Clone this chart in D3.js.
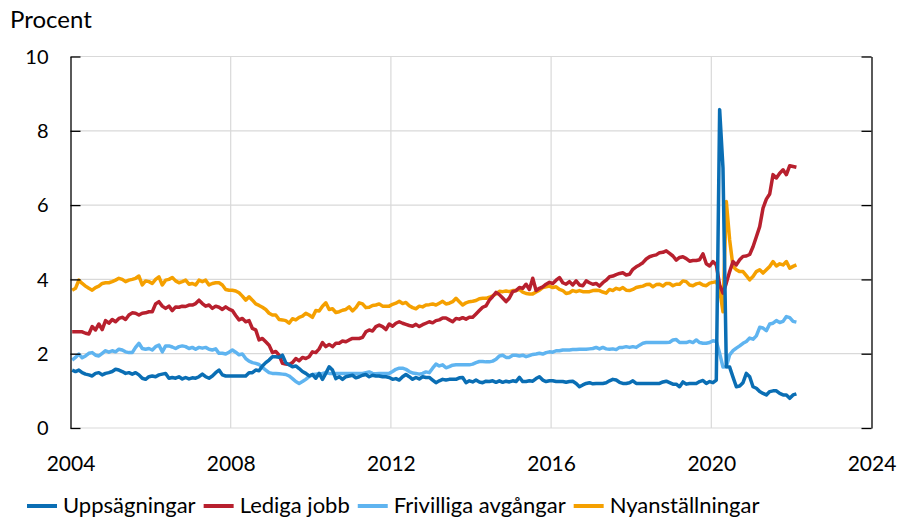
<!DOCTYPE html>
<html>
<head>
<meta charset="utf-8">
<script src="https://cdn.jsdelivr.net/npm/d3@7"></script>
<style>
  body { margin: 0; background: #fff; }
  svg { display: block; }
</style>
</head>
<body>
<div id="chart"></div>
<script>
// Monthly observations, first value = January 2004
const startYear = 2004;

const uppsagningar = [
  1.56,1.52,1.56,1.49,1.45,1.43,1.40,1.47,1.49,1.43, 1.47,1.49,1.52,1.58,1.56,1.52,1.47,1.49,1.45,1.49,
  1.43,1.34,1.31,1.38,1.40,1.38,1.43,1.45,1.47,1.34,
  1.36,1.34,1.38,1.32,1.36,1.32,1.35,1.34,1.38,1.45, 1.38,1.34,1.40,1.49,1.56,1.43,1.40,1.40,1.40,1.40,
  1.40,1.40,1.40,1.49,1.49,1.56,1.54,1.67,1.76,1.83, 1.92,
  1.92,1.90,1.96,1.76,1.70,1.65,1.67,1.60,1.52,1.47, 1.40,1.44,1.34,1.47,1.31,1.47,1.65,1.56,1.33,1.38,
  1.31,1.38,1.40,1.42,1.35,1.38,1.42,1.44,1.38,1.42, 1.40,1.40,
  1.38,1.38,1.36,1.31,1.33,1.29,1.38,1.44,1.38,1.31, 1.36,1.32,1.38,1.36,1.36,1.29,1.22,1.27,1.31,1.29,
  1.31,1.31,1.31,1.35,1.36,1.22,1.27,1.24,1.29,1.24, 1.22,
  1.26,1.25,1.27,1.23,1.27,1.23,1.26,1.24,1.27,1.25, 1.36,1.25,1.25,1.27,1.26,1.33,1.38,1.29,1.25,1.27,
  1.27,1.25,1.25,1.25,1.23,1.25,1.26,1.20,1.11,1.16, 1.20,1.22,
  1.19,1.20,1.20,1.20,1.22,1.27,1.31,1.29,1.23,1.20, 1.20,1.22,1.27,1.20,1.20,1.20,1.20,1.20,1.20,1.20,
  1.20,1.24,1.26,1.22,1.18,1.18,1.11,1.24,1.18,1.20,
  1.20,1.20,1.25,1.28,1.20,1.25,1.22,1.29,8.57,7.00, 1.65,1.64,1.37,1.11,1.13,1.22,1.47,1.38,1.11,1.07,
  0.98,0.93,0.89,0.98,1.00,1.00,0.93,0.89,0.89,0.80, 0.89,0.92
];

const ledigaJobb = [
  2.59,2.59,2.59,2.59,2.55,2.53,2.73,2.64,2.80,2.65, 2.89,2.82,2.92,2.86,2.95,2.98,2.92,3.04,3.10,3.09,
  3.04,3.09,3.10,3.13,3.13,3.34,3.40,3.28,3.22,3.28,
  3.16,3.26,3.25,3.28,3.27,3.31,3.31,3.35,3.44,3.35, 3.28,3.31,3.22,3.28,3.25,3.19,3.26,3.20,3.16,3.03,
  2.91,2.95,2.86,2.89,2.68,2.64,2.37,2.41,2.32,2.23, 2.03,
  2.06,1.96,1.74,1.72,1.71,1.76,1.87,1.81,1.90,1.87, 1.92,2.05,2.03,2.13,2.30,2.19,2.25,2.19,2.28,2.28,
  2.34,2.32,2.37,2.41,2.41,2.41,2.44,2.59,2.64,2.61, 2.73,2.77,
  2.73,2.65,2.80,2.74,2.82,2.86,2.82,2.79,2.76,2.74, 2.79,2.73,2.78,2.82,2.86,2.83,2.89,2.91,2.96,2.96,
  2.91,2.86,2.95,2.93,2.97,2.93,2.98,2.98,3.07,3.16, 3.25,
  3.29,3.44,3.54,3.65,3.59,3.50,3.40,3.50,3.67,3.70, 3.78,3.76,3.87,3.73,4.03,3.70,3.76,3.80,3.87,3.92,
  3.89,3.98,4.05,3.91,3.87,3.94,3.85,3.96,3.85,3.83, 3.96,3.91,
  3.87,3.89,3.82,3.91,3.98,4.07,4.09,4.13,4.16,4.18, 4.12,4.14,4.27,4.34,4.39,4.45,4.55,4.61,4.64,4.66,
  4.72,4.73,4.77,4.70,4.63,4.52,4.59,4.61,4.56,4.49,
  4.51,4.51,4.53,4.69,4.42,4.36,4.48,4.39,3.85,3.63, 3.90,4.21,4.48,4.39,4.53,4.62,4.63,4.67,4.88,5.15,
  5.42,5.92,6.16,6.30,6.82,6.73,6.86,6.95,6.82,7.06, 7.04,7.02
];

const frivilligaAvgangar = [
  1.83,1.90,1.99,1.89,1.94,2.01,2.03,1.96,1.94,2.01, 2.08,2.04,2.08,2.05,2.12,2.10,2.05,2.03,2.03,2.17,
  2.28,2.14,2.12,2.14,2.10,2.19,2.23,2.05,2.21,2.21,
  2.18,2.14,2.19,2.21,2.19,2.14,2.17,2.12,2.17,2.15, 2.17,2.12,2.10,2.13,2.01,2.01,1.99,2.04,2.10,2.04,
  1.97,1.99,1.87,1.80,1.76,1.74,1.71,1.63,1.56,1.49, 1.47,
  1.47,1.46,1.45,1.44,1.40,1.33,1.25,1.20,1.25,1.31, 1.38,1.44,1.45,1.46,1.47,1.49,1.47,1.47,1.47,1.47,
  1.47,1.47,1.47,1.47,1.47,1.47,1.47,1.49,1.51,1.47, 1.46,1.47,
  1.47,1.47,1.47,1.52,1.58,1.61,1.61,1.58,1.52,1.48, 1.47,1.45,1.47,1.51,1.49,1.61,1.72,1.67,1.70,1.62,
  1.65,1.69,1.70,1.70,1.70,1.70,1.70,1.72,1.76,1.79, 1.79,
  1.78,1.78,1.80,1.85,1.94,1.96,1.90,1.90,1.96,1.96, 1.94,1.96,1.92,1.95,1.98,1.99,2.01,1.99,2.03,2.05,
  2.04,2.08,2.08,2.10,2.10,2.10,2.11,2.11,2.12,2.12, 2.12,2.13,
  2.14,2.17,2.13,2.17,2.13,2.12,2.13,2.11,2.17,2.17, 2.19,2.17,2.19,2.17,2.23,2.28,2.30,2.30,2.30,2.30,
  2.30,2.30,2.30,2.31,2.37,2.38,2.30,2.30,2.30,2.33,
  2.30,2.37,2.30,2.28,2.28,2.30,2.35,2.33,2.01,1.64, 1.65,1.97,2.08,2.15,2.21,2.28,2.33,2.42,2.39,2.48,
  2.71,2.69,2.62,2.80,2.82,2.89,2.84,2.87,3.00,2.97, 2.87,2.85
];

const nyanstallningar = [
  3.71,3.76,3.98,3.89,3.82,3.76,3.71,3.78,3.82,3.89, 3.91,3.91,3.94,3.98,4.03,4.00,3.94,3.98,4.00,4.03,
  4.09,3.85,3.96,3.94,3.89,4.00,4.07,3.85,3.98,4.00,
  4.05,3.96,3.91,3.94,3.98,3.87,3.89,3.85,3.98,3.94, 3.98,3.85,3.89,3.91,3.91,3.85,3.73,3.71,3.71,3.69,
  3.64,3.55,3.44,3.53,3.44,3.34,3.30,3.25,3.19,3.09, 3.04,
  3.04,2.92,2.91,2.89,2.82,2.94,2.91,2.98,3.01,3.09, 3.04,2.98,3.16,3.15,3.28,3.37,3.19,3.21,3.11,3.13,
  3.17,3.19,3.26,3.15,3.24,3.37,3.34,3.24,3.25,3.30, 3.31,3.34,
  3.28,3.28,3.28,3.33,3.36,3.41,3.35,3.38,3.29,3.24, 3.21,3.28,3.26,3.31,3.32,3.34,3.31,3.36,3.41,3.34,
  3.36,3.40,3.49,3.40,3.31,3.37,3.40,3.41,3.43,3.48, 3.49,
  3.49,3.52,3.56,3.61,3.68,3.67,3.69,3.67,3.70,3.70, 3.73,3.66,3.62,3.61,3.61,3.66,3.71,3.78,3.80,3.82,
  3.78,3.80,3.73,3.70,3.62,3.64,3.70,3.67,3.70,3.67, 3.67,3.67,
  3.70,3.71,3.70,3.66,3.63,3.73,3.70,3.76,3.73,3.78, 3.71,3.70,3.73,3.78,3.80,3.82,3.86,3.87,3.80,3.86,
  3.87,3.82,3.89,3.89,3.83,3.87,3.87,3.96,3.94,3.85,
  3.83,3.88,3.90,3.85,3.83,3.90,3.92,3.94,3.72,3.13, 6.10,5.06,4.35,4.26,4.21,4.21,4.10,3.99,4.08,4.21,
  4.26,4.17,4.26,4.35,4.48,4.36,4.42,4.39,4.48,4.30, 4.35,4.39
];

const seriesNames = ["Uppsägningar", "Lediga jobb", "Frivilliga avgångar", "Nyanställningar"];
const seriesColors = ["#0a6eb4", "#b8202e", "#5fb4f0", "#f5a000"];
const xTicks = [2004, 2008, 2012, 2016, 2020, 2024];
const yTicks = [0, 2, 4, 6, 8, 10];
const yLabel = "Procent";

const seriesValues = [uppsagningar, ledigaJobb, frivilligaAvgangar, nyanstallningar];
const series = seriesNames.map((name, i) => ({
  name,
  color: seriesColors[i],
  points: seriesValues[i].map((v, m) => ({ t: startYear + (m + 0.5) / 12, v }))
}));

const W = 897, H = 520;
const margin = { top: 56.5, right: 25.5, bottom: 92, left: 70.5 };
const innerW = W - margin.left - margin.right;
const innerH = H - margin.top - margin.bottom;
const font = "Lato, 'Open Sans', sans-serif";

const svg = d3.select("#chart").append("svg")
  .attr("width", W)
  .attr("height", H)
  .style("font-family", font);

const g = svg.append("g").attr("transform", `translate(${margin.left},${margin.top})`);

const x = d3.scaleLinear().domain([2004, 2024]).range([0, innerW]);
const y = d3.scaleLinear().domain([0, 10]).range([innerH, 0]);

// Grid
g.append("g")
  .selectAll("line")
  .data(yTicks)
  .join("line")
  .attr("x1", 0).attr("x2", innerW)
  .attr("y1", d => y(d)).attr("y2", d => y(d))
  .attr("stroke", "#d9d9d9").attr("stroke-width", 1.2);

g.append("g")
  .selectAll("line")
  .data(xTicks.slice(1, -1))
  .join("line")
  .attr("x1", d => x(d)).attr("x2", d => x(d))
  .attr("y1", 0).attr("y2", innerH)
  .attr("stroke", "#d9d9d9").attr("stroke-width", 1.2);

// Lines (first series drawn last so it sits on top)
const line = d3.line().x(d => x(d.t)).y(d => y(d.v));
g.append("g")
  .selectAll("path")
  .data(series.slice().reverse())
  .join("path")
  .attr("d", d => line(d.points))
  .attr("fill", "none")
  .attr("stroke", d => d.color)
  .attr("stroke-width", 3.5)
  .attr("stroke-linejoin", "round");

// Frame axes with inward ticks
g.append("g")
  .call(d3.axisRight(y).tickValues(yTicks).tickSize(10).tickSizeOuter(0).tickFormat(""))
  .call(a => a.selectAll("line, path").attr("stroke", "#000").attr("stroke-width", 1.3));

g.append("g")
  .attr("transform", `translate(${innerW},0)`)
  .call(d3.axisLeft(y).tickValues(yTicks).tickSize(10).tickSizeOuter(0).tickFormat(""))
  .call(a => a.selectAll("line, path").attr("stroke", "#000").attr("stroke-width", 1.3));

// Tick labels
g.append("g")
  .call(d3.axisLeft(y).tickValues(yTicks).tickSize(0).tickPadding(22))
  .call(a => a.select(".domain").remove())
  .call(a => a.selectAll("text")
    .attr("font-size", 20).attr("font-family", font).attr("fill", "#000")
    .attr("dy", "0.34em"));

g.append("g")
  .attr("transform", `translate(0,${innerH})`)
  .call(d3.axisBottom(x).tickValues(xTicks).tickFormat(d3.format("d")).tickSize(0))
  .call(a => a.select(".domain").remove())
  .call(a => a.selectAll("text")
    .attr("font-size", 21).attr("font-family", font).attr("fill", "#000")
    .attr("y", 43).attr("dy", null));

svg.append("text")
  .attr("x", 10).attr("y", 28)
  .attr("font-size", 24)
  .text(yLabel);

// Legend
const legend = svg.append("g").attr("transform", "translate(27,506)");
let lx = 0;
series.forEach(s => {
  const item = legend.append("g").attr("transform", `translate(${lx},0)`);
  item.append("line")
    .attr("x1", 0).attr("x2", 30)
    .attr("stroke", s.color).attr("stroke-width", 4);
  const t = item.append("text")
    .attr("x", 36).attr("y", 7)
    .attr("font-size", 22)
    .text(s.name);
  lx += 36 + t.node().getComputedTextLength() + 8;
});
</script>
</body>
</html>
